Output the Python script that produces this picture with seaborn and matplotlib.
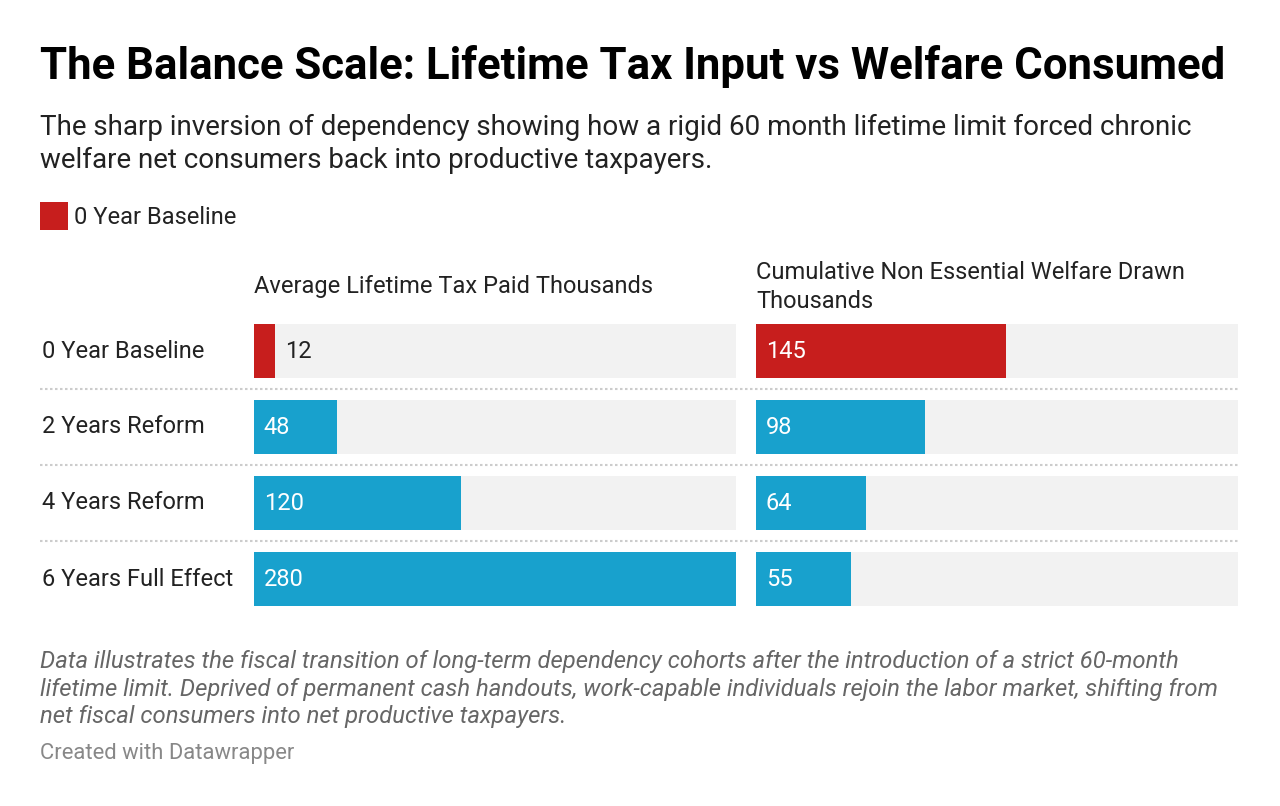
import matplotlib
matplotlib.use("Agg")
import matplotlib.pyplot as plt
from matplotlib.lines import Line2D
from matplotlib.patches import Rectangle
import seaborn as sns
import pandas as pd

# data
phases = ["0 Year Baseline", "2 Years Reform", "4 Years Reform", "6 Years Full Effect"]
tax_paid = [12, 48, 120, 280]
welfare_drawn = [145, 98, 64, 55]
columns = ["Average Lifetime Tax Paid Thousands", "Cumulative Non Essential Welfare Drawn\nThousands"]

RED = "#c71e1d"
BLUE = "#18a1cd"
TRACK = "#f2f2f2"
W, H = 1280, 806

sns.set_theme(style="white")
plt.rcParams["font.family"] = ["Roboto", "DejaVu Sans"]

df = pd.DataFrame({"phase": phases, "tax": tax_paid, "welfare": welfare_drawn})
colors = {p: (RED if i == 0 else BLUE) for i, p in enumerate(phases)}
vmax = max(max(tax_paid), max(welfare_drawn))

fig = plt.figure(figsize=(W / 100, H / 100), dpi=100)


def px(x, y):
    return x / W, 1 - y / H


# rows: 4 rows of 76 px starting at y=313
top, row_h = 313, 76
n = len(phases)
panels = [(254, 736, "tax"), (756, 1238, "welfare")]

for (x0, x1, col), head in zip(panels, columns):
    ax = fig.add_axes([x0 / W, 1 - (top + n * row_h) / H, (x1 - x0) / W, n * row_h / H])
    ax.barh(range(n), [vmax] * n, height=54 / 76, color=TRACK, zorder=0, lw=0)
    sns.barplot(data=df, y="phase", x=col, hue="phase", palette=colors, orient="h",
                width=54 / 76, ax=ax, legend=False, saturation=1, zorder=2, linewidth=0)
    ax.set_xlim(0, vmax)
    ax.set_ylim(n - 0.5, -0.5)
    ax.axis("off")
    for i, v in enumerate(df[col]):
        if v / vmax * (x1 - x0) < 40:
            ax.annotate(str(v), (v, i), xytext=(7.5, 0), textcoords="offset points",
                        va="center", ha="left", fontsize=17, color="#222222", zorder=3)
        else:
            ax.annotate(str(v), (0, i), xytext=(7, 0), textcoords="offset points",
                        va="center", ha="left", fontsize=17, color="white", zorder=3)
    fig.text(*px(x0, 287), head, fontsize=17, color="#222222",
             ha="left", va="center", linespacing=1.29)

# row labels
for i, p in enumerate(phases):
    fig.text(*px(42, top + row_h * i + 38), p, fontsize=17, color="#222222", va="center")

# dotted separators
for i in range(1, n):
    y = 1 - (top + row_h * i) / H
    fig.add_artist(Line2D([40 / W, 1238 / W], [y, y], transform=fig.transFigure,
                          color="#cccccc", lw=1.5, ls=(0, (1.2, 1.2))))

# title + subtitle
fig.text(*px(40, 67), "The Balance Scale: Lifetime Tax Input vs Welfare Consumed",
         fontsize=31.5, fontweight="bold", color="#000000", va="center")
fig.text(*px(40, 114), "The sharp inversion of dependency showing how a rigid 60 month lifetime limit forced chronic\n"
         "welfare net consumers back into productive taxpayers.",
         fontsize=20, color="#222222", va="top", linespacing=1.28)

# legend
fig.add_artist(Rectangle(px(40, 230), 28 / W, 28 / H, transform=fig.transFigure,
                         color=RED, lw=0))
fig.text(*px(74, 217), "0 Year Baseline", fontsize=17, color="#222222", va="center")

# notes
fig.text(*px(40, 650), "Data illustrates the fiscal transition of long-term dependency cohorts after the introduction of a strict 60-month\n"
         "lifetime limit. Deprived of permanent cash handouts, work-capable individuals rejoin the labor market, shifting from\n"
         "net fiscal consumers into net productive taxpayers.",
         fontsize=17.2, style="italic", color="#666666", va="top", linespacing=1.26)
fig.text(*px(40, 754), "Created with Datawrapper", fontsize=15.8, color="#888888", va="center")

fig.savefig("out.png", dpi=100, facecolor="white")
